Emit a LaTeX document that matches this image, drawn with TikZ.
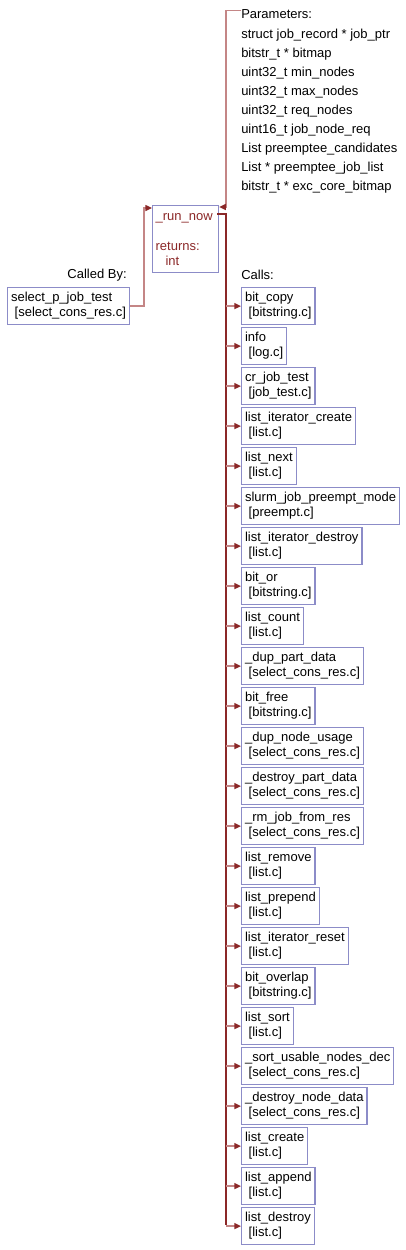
\documentclass[tikz,border=0pt]{standalone}
\usepackage{fontspec}
\setmainfont{Liberation Sans}
\usetikzlibrary{arrows.meta,positioning,calc}
\definecolor{callRed}{RGB}{139,40,40}
\definecolor{callPink}{RGB}{196,134,134}
\definecolor{boxBlue}{RGB}{140,140,200}

\tikzset{
    txt/.style={font=\fontsize{9.75}{11.25}\selectfont, inner sep=0pt},
    fnbox/.style={txt, draw=boxBlue, line width=0.9pt, anchor=north west,
        align=left, inner xsep=2.6pt, minimum height=27.75pt},
    calltip/.style={-{Triangle[length=5pt,width=4.5pt,color=callRed]}},
    callsline/.style={draw=callRed, line width=1.2pt},
    branch/.style={draw=callPink, line width=1pt, calltip},
    byline/.style={draw=callPink, line width=1pt, calltip}
}

\begin{document}
\begin{tikzpicture}[x=0.75pt,y=-0.75pt]
    \useasboundingbox (0,0) rectangle (405,1250);

    % function under inspection
    \node[txt, draw=boxBlue, line width=0.9pt, anchor=north west, align=left,
        text=callRed, text width=45pt, inner xsep=2.25pt, minimum height=50.25pt]
        (runnow) at (152,205)
        {\_run\_now\\[11.25pt]returns:\\\hspace*{7.5pt}int};

    % parameters
    \node[txt, anchor=west] (params) at (241,14) {Parameters:};
    \node[txt, anchor=west] (p1) at (241,35) {struct job\_record * job\_ptr};
    \node[txt, anchor=west] (p2) at (241,54) {bitstr\_t * bitmap};
    \node[txt, anchor=west] (p3) at (241,73) {uint32\_t min\_nodes};
    \node[txt, anchor=west] (p4) at (241,92) {uint32\_t max\_nodes};
    \node[txt, anchor=west] (p5) at (241,111) {uint32\_t req\_nodes};
    \node[txt, anchor=west] (p6) at (241,130) {uint16\_t job\_node\_req};
    \node[txt, anchor=west] (p7) at (241,149) {List preemptee\_candidates};
    \node[txt, anchor=west] (p8) at (241,168) {List * preemptee\_job\_list};
    \node[txt, anchor=west] (p9) at (241,187) {bitstr\_t * exc\_core\_bitmap};

    % callers
    \node[txt, anchor=east] (calledby) at (127,275) {Called By:};
    \node[fnbox] (caller) at (7,287)
        {select\_p\_job\_test\\\hspace*{2.7pt}[select\_cons\_res.c]};

    % callees
    \node[txt, anchor=west] (callslbl) at (241,275) {Calls:};
    \node[fnbox] (f1) at (241,287) {bit\_copy\\\hspace*{2.7pt}[bitstring.c]};
    \node[fnbox] (f2) at (241,327) {info\\\hspace*{2.7pt}[log.c]};
    \node[fnbox] (f3) at (241,367) {cr\_job\_test\\\hspace*{2.7pt}[job\_test.c]};
    \node[fnbox] (f4) at (241,407) {list\_iterator\_create\\\hspace*{2.7pt}[list.c]};
    \node[fnbox] (f5) at (241,447) {list\_next\\\hspace*{2.7pt}[list.c]};
    \node[fnbox] (f6) at (241,487) {slurm\_job\_preempt\_mode\\\hspace*{2.7pt}[preempt.c]};
    \node[fnbox] (f7) at (241,527) {list\_iterator\_destroy\\\hspace*{2.7pt}[list.c]};
    \node[fnbox] (f8) at (241,567) {bit\_or\\\hspace*{2.7pt}[bitstring.c]};
    \node[fnbox] (f9) at (241,607) {list\_count\\\hspace*{2.7pt}[list.c]};
    \node[fnbox] (f10) at (241,647) {\_dup\_part\_data\\\hspace*{2.7pt}[select\_cons\_res.c]};
    \node[fnbox] (f11) at (241,687) {bit\_free\\\hspace*{2.7pt}[bitstring.c]};
    \node[fnbox] (f12) at (241,727) {\_dup\_node\_usage\\\hspace*{2.7pt}[select\_cons\_res.c]};
    \node[fnbox] (f13) at (241,767) {\_destroy\_part\_data\\\hspace*{2.7pt}[select\_cons\_res.c]};
    \node[fnbox] (f14) at (241,807) {\_rm\_job\_from\_res\\\hspace*{2.7pt}[select\_cons\_res.c]};
    \node[fnbox] (f15) at (241,847) {list\_remove\\\hspace*{2.7pt}[list.c]};
    \node[fnbox] (f16) at (241,887) {list\_prepend\\\hspace*{2.7pt}[list.c]};
    \node[fnbox] (f17) at (241,927) {list\_iterator\_reset\\\hspace*{2.7pt}[list.c]};
    \node[fnbox] (f18) at (241,967) {bit\_overlap\\\hspace*{2.7pt}[bitstring.c]};
    \node[fnbox] (f19) at (241,1007) {list\_sort\\\hspace*{2.7pt}[list.c]};
    \node[fnbox] (f20) at (241,1047) {\_sort\_usable\_nodes\_dec\\\hspace*{2.7pt}[select\_cons\_res.c]};
    \node[fnbox] (f21) at (241,1087) {\_destroy\_node\_data\\\hspace*{2.7pt}[select\_cons\_res.c]};
    \node[fnbox] (f22) at (241,1127) {list\_create\\\hspace*{2.7pt}[list.c]};
    \node[fnbox] (f23) at (241,1167) {list\_append\\\hspace*{2.7pt}[list.c]};
    \node[fnbox] (f24) at (241,1207) {list\_destroy\\\hspace*{2.7pt}[list.c]};

    % connectors
    \draw[byline] ($(params.north west)+(0,1)$) -- ++(-15,0) |- ($(runnow.north east)+(0,2)$);
    \draw[byline] (caller.east) -- ++(14,0) |- ($(runnow.north west)+(0,3)$);

    \coordinate (trunkend) at (226,1225);
    \draw[callsline] ($(runnow.north east)+(-2,9)$) -| (trunkend);
    \foreach \f in {f1,f2,f3,f4,f5,f6,f7,f8,f9,f10,f11,f12,f13,f14,f15,f16,f17,f18,f19,f20,f21,f22,f23,f24}
        \draw[branch] (trunkend |- \f.west) -- (\f.west);
\end{tikzpicture}
\end{document}
